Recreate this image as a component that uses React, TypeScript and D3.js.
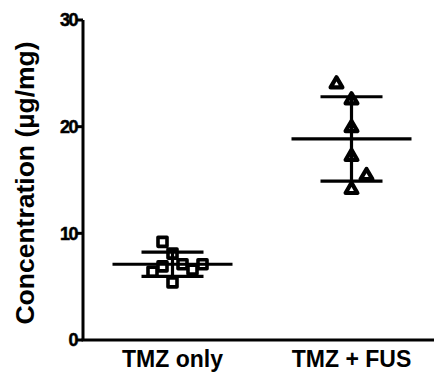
import * as d3 from "d3"

const categories = ["TMZ only", "TMZ + FUS"]
const tmzOnly = [8.1, 9.2, 5.4, 7.1, 6.9, 6.6, 6.4, 7.1]
const tmzFus = [22.5, 24.0, 19.9, 17.2, 14.1, 15.4]
const yTicks = [0, 10, 20, 30]

const width = 434
const height = 372
const margin = { top: 20, right: -7, bottom: 32, left: 83 }

const x = d3
  .scalePoint()
  .domain(categories)
  .range([margin.left, width - margin.right])
  .padding(0.5)

const y = d3
  .scaleLinear()
  .domain([0, 30])
  .range([height - margin.bottom, margin.top])

// simple beeswarm: same slot + close in y -> move sideways
function swarm(values: number[], step: number, gap: number) {
  const m = d3.mean(values) as number
  const placed: { slot: number; py: number }[] = []
  return values.map((v) => {
    const py = y(v)
    const dir = v > m ? -1 : 1
    let slot = 0
    for (let k = 0; k < 20; k++) {
      const s = k === 0 ? 0 : Math.ceil(k / 2) * (k % 2 === 1 ? dir : -dir)
      if (!placed.some((p) => p.slot === s && Math.abs(p.py - py) < gap)) {
        slot = s
        break
      }
    }
    placed.push({ slot, py })
    return { v, dx: slot * step, py }
  })
}

const groups = [
  { name: categories[0], values: tmzOnly, symbol: d3.symbolSquare, size: 81, sw: 3.6, step: 10, gap: 13 },
  { name: categories[1], values: tmzFus, symbol: d3.symbolTriangle, size: 60, sw: 4.2, step: 15, gap: 17 },
]

const font = "Arial, 'Liberation Sans', sans-serif"

export default function App() {
  return (
    <svg
      width={width}
      height={height}
      style={{ position: "absolute", left: 0, top: 0, background: "#fff" }}
      fontFamily={font}
      fontWeight="bold"
    >
      {/* y axis */}
      <line x1={margin.left} x2={margin.left} y1={y(30)} y2={y(0)} stroke="#000" strokeWidth={3} />
      {yTicks.map((t) => (
        <g key={t}>
          <line x1={margin.left - 6} x2={margin.left} y1={y(t)} y2={y(t)} stroke="#000" strokeWidth={3} />
          <text
            x={margin.left - 6}
            y={y(t)}
            dy="0.36em"
            textAnchor="end"
            fontSize={18}
            letterSpacing={-1.5}
            stroke="#000"
            strokeWidth={0.5}
          >
            {t}
          </text>
        </g>
      ))}
      {/* x axis */}
      <line x1={margin.left - 1.5} x2={width} y1={y(0)} y2={y(0)} stroke="#000" strokeWidth={3} />
      {categories.map((c) => (
        <text key={c} x={x(c)} y={367} textAnchor="middle" fontSize={23}>
          {c}
        </text>
      ))}
      <text
        transform={`translate(34,${(y(30) + y(0)) / 2 + 3}) rotate(-90)`}
        textAnchor="middle"
        fontSize={26.5}
      >
        Concentration (µg/mg)
      </text>

      {groups.map((g) => {
        const cx = x(g.name) as number
        const mean = d3.mean(g.values) as number
        const sd = d3.deviation(g.values) as number
        const pts = swarm(g.values, g.step, g.gap)
        const sym = d3.symbol(g.symbol, g.size)()
        return (
          <g key={g.name}>
            {pts.map((p, i) => (
              <path
                key={i}
                d={sym as string}
                transform={`translate(${cx + p.dx},${p.py})`}
                fill="#fff"
                stroke="#000"
                strokeWidth={g.sw}
                strokeLinejoin="round"
              />
            ))}
            <line x1={cx} x2={cx} y1={y(mean + sd)} y2={y(mean - sd)} stroke="#000" strokeWidth={3.2} />
            <line x1={cx - 31} x2={cx + 31} y1={y(mean + sd)} y2={y(mean + sd)} stroke="#000" strokeWidth={3.2} />
            <line x1={cx - 31} x2={cx + 31} y1={y(mean - sd)} y2={y(mean - sd)} stroke="#000" strokeWidth={3.2} />
            <line x1={cx - 60} x2={cx + 60} y1={y(mean)} y2={y(mean)} stroke="#000" strokeWidth={3.2} />
          </g>
        )
      })}
    </svg>
  )
}
